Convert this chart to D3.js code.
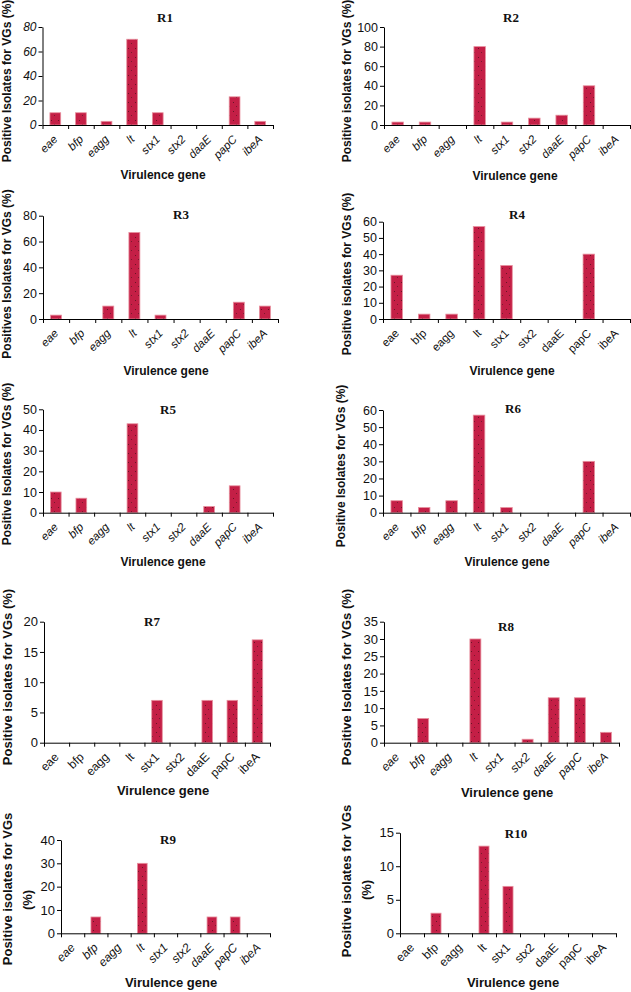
<!DOCTYPE html>
<html>
<head>
<meta charset="utf-8">
<script src="https://cdn.jsdelivr.net/npm/d3@7"></script>
<style>
  body { margin: 0; background: #fff; }
  svg { display: block; }
</style>
</head>
<body>
<svg width="631" height="992"></svg>
<script>
'use strict';

// data
const genes = ["eae", "bfp", "eagg", "lt", "stx1", "stx2", "daaE", "papC", "ibeA"];
const r1 = [10, 10, 3, 70, 10, 0, 0, 23, 3];
const r2 = [3, 3, 0, 80, 3, 7, 10, 40, 0];
const r3 = [3, 0, 10, 67, 3, 0, 0, 13, 10];
const r4 = [27, 3, 3, 57, 33, 0, 0, 40, 0];
const r5 = [10, 7, 0, 43, 0, 0, 3, 13, 0];
const r6 = [7, 3, 7, 57, 3, 0, 0, 30, 0];
const r7 = [0, 0, 0, 0, 7, 0, 7, 7, 17];
const r8 = [0, 7, 0, 30, 0, 1, 13, 13, 3];
const r9 = [0, 7, 0, 30, 0, 0, 7, 7, 0];
const r10 = [0, 3, 0, 13, 7, 0, 0, 0, 0];
const series = [r1, r2, r3, r4, r5, r6, r7, r8, r9, r10];
const titles = ["R1", "R2", "R3", "R4", "R5", "R6", "R7", "R8", "R9", "R10"];
const yMax = [80, 100, 80, 60, 50, 60, 20, 35, 40, 15];
const yStep = [20, 20, 20, 10, 10, 10, 5, 5, 10, 5];
const yTitles = [
  ["Positive Isolates for VGs (%)"],
  ["Positive isolates for VGs (%)"],
  ["Positives Isolates for VGs (%)"],
  ["Positive isolates for VGs (%)"],
  ["Positive Isolates for VGs (%)"],
  ["Positive Isolates for VGs (%)"],
  ["Positive isolates for VGs (%)"],
  ["Positive Isolates for VGs (%)"],
  ["Positive isolates for VGs", "(%)"],
  ["Positive isolates for VGs", "(%)"]
];
const xTitle = "Virulence gene";

// where each panel sits on the page
const layout = [
  {l: 42.5, r: 273, t: 27, b: 125, tx: 165, ty: 22, ax: 163, ay: 179, yt: [[11, 81]], ital: true, yital: true, fs: 12, xfs: 11.5, yfs: 12},
  {l: 384, r: 630, t: 27, b: 125, tx: 511, ty: 22, ax: 515, ay: 180, yt: [[351, 81]], ital: true, fs: 12, xfs: 11.5, yfs: 12.5},
  {l: 43, r: 278, t: 215.7, b: 319, tx: 181, ty: 219, ax: 166, ay: 375, yt: [[11, 274]], ital: true, fs: 12, xfs: 11.5, yfs: 12.5},
  {l: 383, r: 630, t: 221.7, b: 319, tx: 517, ty: 219, ax: 512, ay: 375, yt: [[351, 274]], ital: false, fs: 12, xfs: 11.5, yfs: 12.5},
  {l: 43, r: 273, t: 409.3, b: 512.7, tx: 168, ty: 414, ax: 163, ay: 566, yt: [[11, 464]], ital: true, fs: 12, xfs: 11.5, yfs: 12.5},
  {l: 383, r: 630, t: 410, b: 512.7, tx: 513, ty: 413, ax: 507, ay: 566, yt: [[345, 466]], ital: true, fs: 12, xfs: 11.5, yfs: 12.5},
  {l: 44, r: 270, t: 621.7, b: 742.7, tx: 152, ty: 626, ax: 163, ay: 795, yt: [[12, 677]], ital: false, fs: 13, xfs: 12, yfs: 13},
  {l: 384, r: 619, t: 621.7, b: 742.7, tx: 506, ty: 631, ax: 507, ay: 797, yt: [[351, 677]], ital: true, fs: 13, xfs: 12, yfs: 13},
  {l: 61, r: 270, t: 840, b: 933.3, tx: 168, ty: 844, ax: 171, ay: 987, yt: [[12, 889], [32, 900]], ital: true, fs: 13, xfs: 12, yfs: 13},
  {l: 400, r: 616, t: 832.7, b: 933.3, tx: 516, ty: 838, ax: 513, ay: 987, yt: [[351, 881], [371, 890]], ital: false, fs: 13, xfs: 12, yfs: 13}
];

const sans = "'Liberation Sans', Arial, sans-serif";
const serif = "'Liberation Serif', 'Times New Roman', serif";

const svg = d3.select("svg");
svg.append("rect").attr("width", 631).attr("height", 992).attr("fill", "#fff");

// dotted fill like the original bars
const pat = svg.append("defs").append("pattern")
    .attr("id", "dots")
    .attr("patternUnits", "userSpaceOnUse")
    .attr("width", 7).attr("height", 9);
pat.append("rect").attr("width", 7).attr("height", 9).attr("fill", "#c41f46");
pat.append("rect").attr("x", 2).attr("y", 3).attr("width", 1).attr("height", 1).attr("fill", "#6a1526");
pat.append("rect").attr("x", 5).attr("y", 7).attr("width", 1).attr("height", 1).attr("fill", "#7a1a2e");

series.forEach((vals, i) => {
  const p = layout[i];
  const g = svg.append("g");

  const x = d3.scaleBand().domain(genes).range([p.l, p.r]);
  const y = d3.scaleLinear().domain([0, yMax[i]]).range([p.b, p.t]);

  // bars
  g.selectAll("rect.bar")
    .data(genes.map((k, j) => ({gene: k, v: vals[j]})).filter(d => d.v > 0))
    .join("rect")
      .attr("class", "bar")
      .attr("x", d => x(d.gene) + x.bandwidth() * 0.29)
      .attr("width", x.bandwidth() * 0.42)
      .attr("y", d => y(d.v))
      .attr("height", d => p.b - y(d.v))
      .attr("fill", "url(#dots)")
      .attr("stroke", "#e8909e")
      .attr("stroke-width", 0.8);

  // y axis
  const ya = g.append("g")
      .attr("transform", `translate(${p.l},0)`)
      .call(d3.axisLeft(y)
        .tickValues(d3.range(0, yMax[i] + 0.001, yStep[i]))
        .tickSize(4).tickSizeOuter(0).tickPadding(2));
  ya.selectAll("text")
      .attr("font-family", sans)
      .attr("font-size", p.yfs)
      .attr("font-style", p.yital ? "italic" : "normal")
      .attr("fill", "#111");

  // x axis: ticks between categories
  const xb = d3.scaleLinear().domain([0, genes.length]).range([p.l, p.r]);
  g.append("g")
      .attr("transform", `translate(0,${p.b})`)
      .call(d3.axisBottom(xb).ticks(genes.length).tickFormat("").tickSize(4).tickSizeOuter(0));

  g.selectAll("path.domain, .tick line").attr("stroke", "#000");

  g.selectAll("text.xl")
    .data(genes)
    .join("text")
      .attr("class", "xl")
      .attr("transform", d => `translate(${x(d) + x.bandwidth() / 2 + 3},${p.b + 15}) rotate(-45)`)
      .attr("text-anchor", "end")
      .attr("font-family", sans)
      .attr("font-size", p.xfs)
      .attr("font-style", p.ital ? "italic" : "normal")
      .attr("fill", "#111")
      .text(d => d);

  // panel title
  g.append("text")
      .attr("x", p.tx).attr("y", p.ty)
      .attr("text-anchor", "middle")
      .attr("font-family", serif)
      .attr("font-weight", "bold")
      .attr("font-size", 13)
      .attr("fill", "#111")
      .text(titles[i]);

  // axis titles
  g.append("text")
      .attr("x", p.ax).attr("y", p.ay)
      .attr("text-anchor", "middle")
      .attr("font-family", sans)
      .attr("font-weight", "bold")
      .attr("font-size", p.fs)
      .attr("fill", "#111")
      .text(xTitle);

  yTitles[i].forEach((line, k) => {
    const [bx, cy] = p.yt[k];
    g.append("text")
        .attr("transform", `translate(${bx},${cy}) rotate(-90)`)
        .attr("text-anchor", "middle")
        .attr("font-family", sans)
        .attr("font-weight", "bold")
        .attr("font-size", p.fs)
        .attr("fill", "#111")
        .text(line);
  });
});
</script>
</body>
</html>
